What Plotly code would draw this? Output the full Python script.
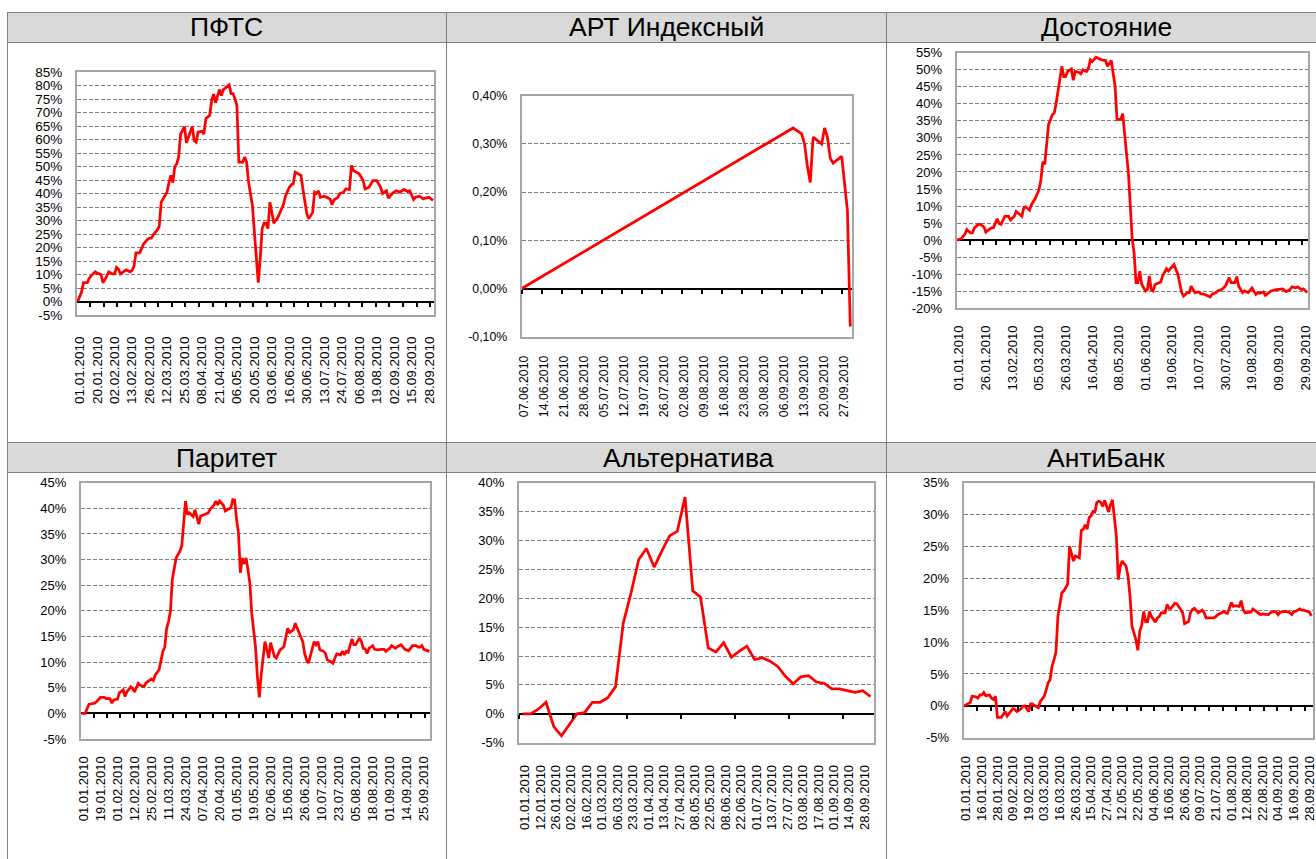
import numpy as np
import plotly.graph_objects as go

W, H = 1316, 859
FONT = "Liberation Sans, Arial, sans-serif"

# ---------------- DATA ----------------
# ПФТС (category axis, trading-day index)
pfts_labels = ["01.01.2010", "20.01.2010", "02.02.2010", "13.02.2010", "26.02.2010", "12.03.2010",
               "25.03.2010", "08.04.2010", "21.04.2010", "06.05.2010", "20.05.2010", "03.06.2010",
               "16.06.2010", "30.06.2010", "13.07.2010", "24.07.2010", "06.08.2010", "19.08.2010",
               "02.09.2010", "15.09.2010", "28.09.2010"]
pfts_idx = [0, 1, 2, 3, 5, 6, 7, 9, 10, 12, 13, 14, 15, 16, 18, 19, 20, 21, 22, 24, 25, 27, 28, 29, 30,
            32, 33, 34, 36, 37, 38, 39, 41, 42, 43, 45, 46, 47, 48, 49, 50, 51, 52, 53, 55, 56, 57, 59,
            60, 61, 62, 64, 65, 66, 68, 69, 70, 71, 73, 74, 75, 77, 78, 79, 80, 81, 82, 83, 85, 86, 87,
            88, 90, 91, 92, 93, 94, 95, 96, 97, 98, 99, 100, 101, 103, 104, 106, 107, 109, 110, 111,
            112, 113, 115, 116, 117, 118, 119, 121, 122, 123, 124, 125, 127, 128, 130, 131, 132, 134,
            135, 137, 138, 140, 141, 142, 144, 145, 147, 148, 150, 152, 154, 156, 157, 159, 160, 162,
            164, 166, 167, 168, 170, 171, 173, 174, 176, 178, 179, 181, 183]
pfts_val = [0, 2, 3.5, 7, 7, 8.6, 9.6, 11, 10.5, 10, 7, 8, 9.6, 11, 10.2, 10.2, 12.6, 12, 10.2, 11,
            11.7, 11, 11.5, 13, 18, 18, 20, 21.4, 23, 23.5, 23.5, 24.8, 26.5, 27.8, 36.8, 39, 40.5,
            44, 46.7, 44, 49.8, 51, 53.5, 62, 64.8, 58.8, 60.9, 64.8, 59.6, 59, 62.7, 63, 62, 67.7, 69,
            74.4, 76.8, 73.6, 78.5, 76.3, 78.5, 79.8, 80.2, 77, 77, 75, 72.6, 51.6, 51.6, 53.5, 51.6,
            44.2, 35.5, 25.7, 15.8, 7, 15.8, 27, 29, 29, 27, 36.8, 33, 29, 31, 32.5, 36, 39, 42.3,
            43.2, 43.6, 47.9, 47.5, 46.7, 41.7, 37.4, 32.5, 30.6, 33, 40.5, 40, 41, 38.6, 39, 38.6,
            38, 35.8, 37.6, 38.6, 40, 40.5, 41.7, 41.5, 50.4, 48.5, 47.9, 47.3, 44.8, 41.7, 42.3,
            44.8, 44.8, 42.3, 40, 41, 38.3, 40, 41, 40.5, 41, 41.5, 40.7, 41, 37.8, 38.6, 39, 38,
            38.3, 38.6, 37.4]

# АРТ Индексный (date axis)
art_labels = ["07.06.2010", "14.06.2010", "21.06.2010", "28.06.2010", "05.07.2010", "12.07.2010",
              "19.07.2010", "26.07.2010", "02.08.2010", "09.08.2010", "16.08.2010", "23.08.2010",
              "30.08.2010", "06.09.2010", "13.09.2010", "20.09.2010", "27.09.2010"]
art_dates = ["2010-06-07", "2010-09-10", "2010-09-13", "2010-09-14", "2010-09-15", "2010-09-16",
             "2010-09-17", "2010-09-20", "2010-09-21", "2010-09-22", "2010-09-23", "2010-09-24",
             "2010-09-27", "2010-09-28", "2010-09-29", "2010-09-30"]
art_val = [0.00, 0.333, 0.321, 0.30, 0.253, 0.22, 0.314, 0.30, 0.333, 0.314, 0.27, 0.26,
           0.274, 0.22, 0.162, -0.079]

# Достояние
dost_labels = ["01.01.2010", "26.01.2010", "13.02.2010", "05.03.2010", "26.03.2010", "16.04.2010",
               "08.05.2010", "01.06.2010", "19.06.2010", "10.07.2010", "30.07.2010", "19.08.2010",
               "09.09.2010", "29.09.2010"]
dost_idx = [0, 2, 4, 5, 7, 8, 9, 11, 12, 14, 15, 17, 18, 19, 21, 22, 23, 25, 27, 28, 30, 31, 32, 34,
            35, 36, 38, 39, 41, 43, 44, 45, 46, 47, 48, 50, 51, 52, 53, 55, 56, 57, 58, 60, 61, 62,
            64, 65, 66, 68, 69, 70, 71, 73, 74, 76, 78, 79, 81, 82, 83, 84, 86, 87, 88, 89, 90, 91,
            92, 93, 94, 95, 96, 97, 99, 100, 101, 102, 103, 104, 106, 107, 108, 110, 111, 112, 114,
            115, 116, 118, 119, 121, 122, 123, 124, 125, 127, 128, 130, 132, 133, 134, 136, 137,
            139, 141, 143, 144, 146, 147, 148, 150, 151, 153, 154, 155, 157, 158, 159, 161, 162,
            164, 165, 167, 168, 170, 171, 173, 175, 176, 178, 179, 181, 182, 184]
dost_val = [0, 0.4, 1.7, 3.1, 2.1, 2.1, 3.6, 4.6, 4.6, 3.9, 2.4, 3.3, 3.6, 3.6, 6.3, 4.9, 4.6, 7, 7,
            5.9, 7, 8.4, 8, 7, 9.6, 9.8, 8.8, 10.4, 12.2, 14.8, 17.8, 23, 22.2, 28.5, 33.9, 36.8,
            37.3, 40.2, 43.7, 51, 48, 48, 49.5, 50.2, 46.9, 49.5, 49.2, 48.8, 50, 49.5, 50.5, 52.9,
            52.4, 53.7, 53.4, 52.9, 52.7, 51, 52.7, 48, 45.1, 35.4, 35.5, 37.1, 31.4, 27.5, 19.7,
            10, 0.2, -3.7, -12.5, -12.5, -9.1, -13, -14.9, -14.5, -10.5, -14.5, -14.9, -13, -12.5,
            -12.3, -10.5, -8.4, -9.1, -8.4, -7.1, -8.6, -10, -15.4, -16.4, -15.4, -15.4, -13.5,
            -14.3, -15.4, -15.2, -15.7, -15.9, -16.4, -16.7, -15.9, -15.4, -14.9, -14.5, -13.5,
            -11, -12.5, -12.5, -10.7, -13.5, -15.4, -14.9, -15.4, -14.5, -14, -15.9, -15.4, -15.6,
            -15.2, -16.2, -15.2, -14.9, -14.6, -14.5, -14.2, -14.3, -15.1, -14.5, -13.7, -14,
            -13.7, -14.5, -14.3, -15.4]

# Паритет
par_labels = ["01.01.2010", "19.01.2010", "01.02.2010", "12.02.2010", "25.02.2010", "11.03.2010",
              "24.03.2010", "07.04.2010", "20.04.2010", "01.05.2010", "19.05.2010", "02.06.2010",
              "15.06.2010", "26.06.2010", "10.07.2010", "23.07.2010", "05.08.2010", "18.08.2010",
              "01.09.2010", "14.09.2010", "25.09.2010"]
par_idx = [0, 2, 3, 4, 7, 8, 10, 12, 13, 15, 16, 17, 19, 20, 22, 23, 24, 26, 27, 28, 30, 31, 33, 34,
           35, 37, 38, 39, 41, 42, 43, 44, 45, 46, 47, 48, 49, 50, 51, 52, 53, 55, 56, 57, 59, 60,
           62, 63, 65, 67, 68, 70, 71, 72, 73, 75, 76, 77, 79, 80, 81, 82, 83, 84, 85, 86, 87, 88,
           89, 90, 92, 93, 94, 95, 96, 97, 98, 99, 100, 102, 103, 104, 105, 107, 108, 109, 110,
           112, 113, 114, 115, 117, 118, 119, 120, 121, 122, 123, 124, 125, 126, 128, 129, 130,
           132, 133, 134, 135, 137, 138, 139, 140, 141, 143, 144, 145, 147, 148, 149, 150, 151,
           152, 154, 155, 157, 158, 160, 161, 163, 164, 166, 167, 169, 170, 171, 173, 174, 175,
           177, 178, 179, 180, 181, 184]
par_val = [0, 0, 1, 1.8, 2, 2.3, 3.1, 3.1, 2.9, 2.9, 2, 2.6, 2.8, 4, 4.6, 3.3, 4.2, 5.2, 4.9, 4.2,
           5.9, 5.5, 5.2, 5.9, 6.2, 6.7, 6.4, 7.5, 8.5, 10.1, 12.1, 12.9, 16.6, 17.9, 19.9, 26.1,
           28.4, 30.3, 31, 31.6, 32.7, 41.4, 38.8, 39.1, 38.4, 39.7, 36.9, 38.5, 38.8, 39.1, 39.8,
           40.6, 41.4, 40.7, 41.4, 40.6, 39.5, 39.7, 40.1, 41.7, 41.6, 37.8, 35.2, 27.4, 30.3,
           29.2, 30.3, 28, 25.4, 19.6, 13, 7.2, 3.1, 7.5, 11.1, 14, 12.4, 10.8, 13.8, 11.1, 10.8,
           11.7, 12.4, 13, 14.7, 16.6, 15.8, 16.3, 17.6, 16.6, 16, 14, 11.7, 10.4, 9.8, 11.4,
           12.7, 14, 13.4, 14, 12.4, 12.1, 11.7, 10.4, 10.1, 9.8, 10.8, 11.6, 11.4, 12.1, 11.4,
           12.1, 11.9, 14.5, 13.4, 13.4, 14.7, 14, 12.7, 12.6, 11.7, 12.7, 13.2, 12.5, 12.4,
           12.5, 12.5, 12.1, 12.7, 13.2, 12.7, 13, 13.4, 13, 12.5, 12.2, 12.7, 13.2, 13.2, 12.9,
           12.9, 13.2, 12.5, 12.1]

# Альтернатива
alt_labels = ["01.01.2010", "12.01.2010", "26.01.2010", "02.02.2010", "16.02.2010", "01.03.2010",
              "06.03.2010", "23.03.2010", "01.04.2010", "13.04.2010", "27.04.2010", "08.05.2010",
              "22.05.2010", "08.06.2010", "22.06.2010", "01.07.2010", "13.07.2010", "27.07.2010",
              "03.08.2010", "17.08.2010", "01.09.2010", "14.09.2010", "28.09.2010"]
alt_val = [0, 0, 0.8, 2.0, -2.2, -3.8, -1.9, 0.0, 0.2, 2.0, 2.0, 2.8, 4.7, 15.7, 20.9, 26.7, 28.6,
           25.4, 28.2, 30.8, 31.6, 37.5, 21.3, 20.2, 11.4, 10.7, 12.3, 9.8, 10.8, 11.7, 9.4, 9.7,
           9.1, 8.2, 6.5, 5.2, 6.4, 6.6, 5.5, 5.3, 4.3, 4.3, 4.0, 3.7, 4.0, 3.0]

# АнтиБанк
anti_labels = ["01.01.2010", "16.01.2010", "28.01.2010", "09.02.2010", "19.02.2010", "03.03.2010",
               "16.03.2010", "26.03.2010", "15.04.2010", "27.04.2010", "12.05.2010", "22.05.2010",
               "04.06.2010", "16.06.2010", "26.06.2010", "09.07.2010", "21.07.2010", "01.08.2010",
               "12.08.2010", "22.08.2010", "04.09.2010", "16.09.2010", "28.09.2010"]
anti_idx = [0, 2, 3, 4, 6, 7, 8, 9, 10, 11, 13, 14, 15, 16, 17, 19, 20, 21, 22, 24, 25, 26, 27, 29,
            30, 31, 33, 34, 35, 36, 38, 39, 41, 42, 43, 44, 45, 46, 47, 48, 49, 50, 51, 53, 54, 56,
            57, 59, 60, 61, 62, 63, 64, 65, 66, 67, 68, 69, 70, 71, 72, 74, 75, 76, 77, 78, 79, 80,
            81, 83, 84, 85, 86, 88, 89, 90, 91, 92, 93, 94, 95, 96, 98, 99, 100, 101, 103, 104, 105,
            106, 108, 109, 111, 112, 113, 115, 116, 117, 118, 120, 121, 122, 123, 124, 127, 128,
            129, 130, 132, 133, 134, 135, 137, 138, 139, 141, 142, 143, 144, 146, 147, 148, 149,
            151, 152, 153, 155, 156, 157, 159, 160, 161, 162, 164, 165, 167, 168, 169, 170, 172,
            173, 174, 176, 177, 178]
anti_val = [0, 0.3, 0.5, 1.5, 1.4, 1.2, 1.7, 1.7, 2.1, 1.6, 1.7, 1.2, 1.0, 1.5, -1.8, -1.8, -1.3,
            -0.9, -1.6, -0.7, -0.4, -0.6, -0.9, -0.5, -0.1, 0, -0.9, 0.3, 0.3, 0.05, -0.3, 0.7,
            1.5, 2.5, 3.6, 4.1, 6.2, 7.2, 8.4, 14, 16.1, 17.7, 18, 19.1, 25, 22.7, 23.5, 23.2, 27.5,
            27.7, 28.4, 27.7, 29.5, 29.8, 30.5, 30.4, 31.9, 32.1, 31.9, 31.3, 32.2, 30.4, 31.6,
            32.3, 29.5, 26.6, 19.8, 21.9, 22.7, 21.9, 20.3, 17.2, 12.5, 10.4, 8.7, 11.7, 12.7,
            14.8, 13.2, 13.2, 14.8, 14, 13.1, 13.8, 14, 14.6, 14.6, 15.9, 15.3, 15.3, 16.1, 16,
            15.1, 14.6, 12.9, 13.2, 14.6, 15.1, 15.3, 14.6, 14.8, 15, 14.6, 13.8, 13.8, 13.8, 14,
            14.3, 14.6, 14.8, 14.6, 14.5, 16.2, 15.6, 15.7, 15.6, 16.5, 15.1, 14.6, 14.6, 14.7,
            15.2, 15, 14.6, 14.3, 14.4, 14.4, 14.3, 14.6, 14.8, 14.7, 14.3, 14.7, 14.8, 14.8, 14.6,
            14.3, 14.8, 14.8, 15.2, 15, 15, 14.8, 14.7, 14.1]

# ---------------- LAYOUT CONFIG ----------------
panels = [
    dict(title="ПФТС", kind="cat", x=pfts_idx, y=pfts_val, labels=pfts_labels, step=9,
         xr=[-0.35, 183.5], yt=(-5, 85, 5), box=(77, 434, 72, 315), fs=13.5, so=14,
         tx=226.7, ty=27.5),
    dict(title="АРТ Индексный", kind="date", x=art_dates, y=art_val, labels=art_labels, step=None,
         xr=["2010-06-07", "2010-09-30 17:00"], yt=(-0.1, 0.4, 0.1), box=(521.7, 852.3, 95.7, 336.7),
         fs=12.3, so=12, tx=666.5, ty=27.5),
    dict(title="Достояние", kind="cat", x=dost_idx, y=dost_val, labels=dost_labels, step=14,
         xr=[-0.3, 184.6], yt=(-20, 55, 5), box=(956.7, 1308.3, 52.7, 308.3), fs=13, so=10,
         tx=1106, ty=27.5),
    dict(title="Паритет", kind="cat", x=par_idx, y=par_val, labels=par_labels, step=9,
         xr=[-0.3, 184.3], yt=(-5, 45, 5), box=(81, 430, 482.7, 739), fs=13, so=10,
         tx=226.7, ty=457.5),
    dict(title="Альтернатива", kind="cat", x=list(range(len(alt_val))), y=alt_val, labels=alt_labels,
         step=2, xr=[-0.5, 45.5], yt=(-5, 40, 5), box=(519, 874.3, 482.7, 742.7), fs=13, so=15,
         tx=688, ty=457.5),
    dict(title="АнтиБанк", kind="cat", x=anti_idx, y=anti_val, labels=anti_labels, step=8,
         xr=[-0.3, 179], yt=(-5, 35, 5), box=(963.7, 1313.3, 482.7, 737.7), fs=13, so=11,
         tx=1106, ty=457.5),
]


def px(xp):
    return xp / W


def py(yp):
    return 1 - yp / H


fig = go.Figure()
layout = dict(width=W, height=H, margin=dict(l=0, r=0, t=0, b=0), paper_bgcolor="white",
              plot_bgcolor="white", showlegend=False, font=dict(family=FONT, color="#000000"),
              shapes=[], annotations=[])

for i, p in enumerate(panels):
    n = i + 1
    sfx = "" if n == 1 else str(n)
    l, r, t, b = p["box"]
    xd = [px(l), px(r)]
    yd = [py(b), py(t)]
    y0, y1, ys = p["yt"]
    yvals = np.round(np.arange(y0, y1 + ys / 2, ys), 4)
    if p["kind"] == "date":
        ytext = [("%.2f" % v).replace(".", ",") + "%" for v in yvals]
        tickvals = ["2010-%s-%s" % (s[3:5], s[0:2]) for s in p["labels"]]
        minor_vals = tickvals
        xtype = "date"
    else:
        ytext = ["%d%%" % round(v) for v in yvals]
        tickvals = [k * p["step"] for k in range(len(p["labels"]))]
        minor_vals = list(np.arange(-0.5, p["xr"][1], 7))
        xtype = "linear"

    fig.add_trace(go.Scatter(x=p["x"], y=p["y"], mode="lines", line=dict(color="#ff0000", width=2.75),
                             xaxis="x" + sfx, yaxis="y" + sfx, hoverinfo="skip"))

    layout["xaxis" + sfx] = dict(domain=xd, anchor="y" + sfx, type=xtype, range=p["xr"],
                                  tickmode="array", tickvals=tickvals, ticktext=p["labels"],
                                  tickangle=-90, ticks="", showgrid=False, zeroline=False,
                                  showline=True, mirror=True, linecolor="#a6a6a6", linewidth=2,
                                  tickfont=dict(size=p["fs"], family=FONT, color="#000000"),
                                  ticklabelstandoff=p["so"], ticklabelshift=2,
                                  ticklabeloverflow="allow", automargin=False, fixedrange=True)
    layout["yaxis" + sfx] = dict(domain=yd, anchor="x" + sfx, range=[y0, y1], tickmode="array",
                                  tickvals=list(yvals), ticktext=ytext, ticks="", showgrid=True,
                                  gridcolor="#7f7f7f", gridwidth=1, griddash="4px,2px",
                                  zeroline=True, zerolinecolor="#000000", zerolinewidth=2,
                                  showline=True, mirror=True, linecolor="#a6a6a6", linewidth=2,
                                  tickfont=dict(size=p["fs"], family=FONT, color="#000000"),
                                  ticklabelstandoff=10, ticklabeloverflow="allow",
                                  automargin=False, fixedrange=True)

    # tick marks on the zero line via a free overlay axis
    m = n + 6
    zero_pos = yd[0] + (0 - y0) / (y1 - y0) * (yd[1] - yd[0])
    layout["xaxis" + str(m)] = dict(overlaying="x" + sfx, anchor="free", position=zero_pos,
                                     type=xtype, range=p["xr"], tickmode="array", tickvals=minor_vals,
                                     ticks="outside", ticklen=4, tickwidth=2, tickcolor="#000000",
                                     showticklabels=False, showgrid=False, zeroline=False,
                                     showline=False, automargin=False, fixedrange=True)
    fig.add_trace(go.Scatter(x=minor_vals, y=[None] * len(minor_vals), mode="lines",
                             xaxis="x" + str(m), yaxis="y" + sfx, hoverinfo="skip"))

    layout["annotations"].append(dict(text=p["title"], x=px(p["tx"]), y=py(p["ty"]), xref="paper",
                                      yref="paper", xanchor="center", yanchor="middle",
                                      showarrow=False, font=dict(size=26.5, family=FONT, color="#000000")))

# header bands and cell borders
GRID = "#808080"
for top, bot in [(12.5, 42.5), (442.5, 472.5)]:
    layout["shapes"].append(dict(type="rect", xref="paper", yref="paper", x0=px(7), x1=1,
                                 y0=py(bot), y1=py(top), fillcolor="#d9d9d9", line=dict(width=0),
                                 layer="below"))
for yy in [12.5, 42.5, 442.5, 472.5]:
    layout["shapes"].append(dict(type="line", xref="paper", yref="paper", x0=px(7), x1=1,
                                 y0=py(yy), y1=py(yy), line=dict(color=GRID, width=1)))
for xx in [7.5, 446.5, 886.5]:
    layout["shapes"].append(dict(type="line", xref="paper", yref="paper", x0=px(xx), x1=px(xx),
                                 y0=py(12.5), y1=0, line=dict(color=GRID, width=1)))

fig.update_layout(**layout)
fig.write_html("out.html", config={"displayModeBar": False},
               post_script="document.body.style.margin='0';document.body.style.overflow='hidden';")
